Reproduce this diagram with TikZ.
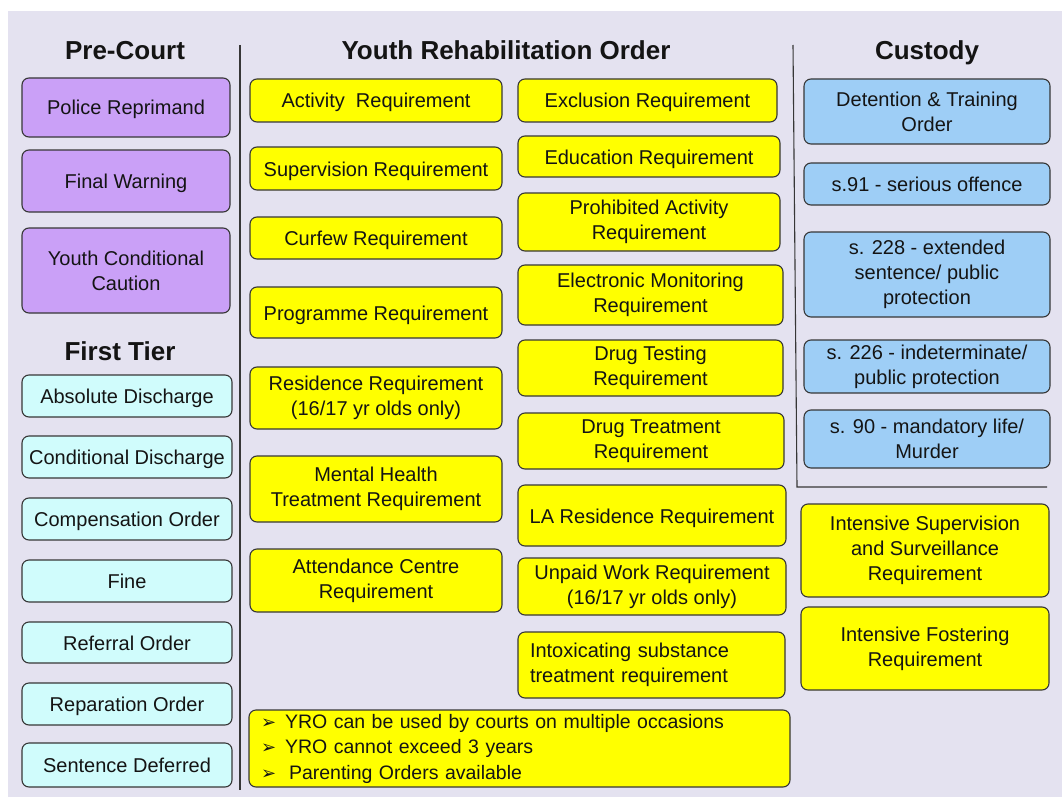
\documentclass[tikz,border=0pt]{standalone}
\usepackage{fontspec}
\setmainfont{Liberation Sans}
\newfontfamily\dejavu{DejaVu Sans}
\definecolor{bgcol}{RGB}{228,226,240}
\definecolor{purp}{RGB}{202,160,247}
\definecolor{cyanbox}{RGB}{208,252,252}
\definecolor{bluebox}{RGB}{158,206,246}
\definecolor{ylw}{RGB}{255,255,0}
\definecolor{edgecol}{RGB}{55,55,55}
\definecolor{txt}{RGB}{20,20,20}
\newcommand{\bul}[1][24pt]{\makebox[#1][l]{\dejavu\fontsize{18}{25}\selectfont ➢}}
\begin{document}
\begin{tikzpicture}[x=1pt,y=-1pt,
  bx/.style={draw=edgecol, line width=1.1pt, rounded corners=7pt, align=center, inner sep=2pt, text=txt, font=\fontsize{20}{25}\selectfont},
  one/.style={text height=15pt, text depth=0pt},
  pbox/.style={bx, fill=purp},
  cbox/.style={bx, fill=cyanbox},
  bbox/.style={bx, fill=bluebox},
  ybox/.style={bx, fill=ylw},
  head/.style={font=\bfseries\fontsize{26}{30}\selectfont, text=txt, anchor=base, inner sep=0pt},
  divline/.style={draw=edgecol, line width=1.1pt}]
\useasboundingbox (0,0) rectangle (1062,797);
\fill[white] (0,0) rectangle (1062,797);
\fill[bgcol] (8,11) rectangle (1062,797);

% headings
\node[head] (hpre) at (125,60) {Pre-Court};
\node[head] (hfirst) at (120,360) {First Tier};
\node[head] (hyro) at (506,60) {Youth Rehabilitation Order};
\node[head] (hcust) at (927,60) {Custody};

% dividers
\coordinate (d1a) at (240,45); \coordinate (d1b) at (240,790);
\coordinate (d2a) at (793,45); \coordinate (d2b) at (797,487);
\coordinate (d3b) at (1047,487);
\draw[divline] (d1a) -- (d1b);
\draw[divline] (d2a) -- (d2b) -- (d3b);

% Pre-Court
\node[pbox, one, minimum width=208pt, minimum height=59pt] (pr) at (126,107.5) {Police Reprimand};
\node[pbox, one, minimum width=208pt, minimum height=62pt] (fw) at (126,181) {Final Warning};
\node[pbox, minimum width=208pt, minimum height=85pt] (ycc) at (126,270.5) {Youth Conditional\\Caution};

% First Tier
\node[cbox, one, minimum width=210pt, minimum height=42pt] (ad) at (127,396) {Absolute Discharge};
\node[cbox, one, minimum width=210pt, minimum height=42pt] (cd) at (127,457) {Conditional Discharge};
\node[cbox, one, minimum width=210pt, minimum height=42pt] (co) at (127,519) {Compensation Order};
\node[cbox, one, minimum width=210pt, minimum height=42pt] (fine) at (127,581) {Fine};
\node[cbox, one, minimum width=210pt, minimum height=41pt] (ro) at (127,642.5) {Referral Order};
\node[cbox, one, minimum width=210pt, minimum height=42pt] (rep) at (127,704) {Reparation Order};
\node[cbox, one, minimum width=210pt, minimum height=44pt] (sd) at (127,765) {Sentence Deferred};

% YRO left column
\node[ybox, one, minimum width=252pt, minimum height=43pt] (act) at (376,100.5) {Activity\ \ Requirement};
\node[ybox, one, minimum width=252pt, minimum height=43pt] (sup) at (376,168.5) {Supervision Requirement};
\node[ybox, one, minimum width=252pt, minimum height=42pt] (cur) at (376,238) {Curfew Requirement};
\node[ybox, one, minimum width=252pt, minimum height=51pt] (prog) at (376,312.5) {Programme Requirement};
\node[ybox, minimum width=252pt, minimum height=62pt] (res) at (376,398) {Residence Requirement\\(16/17 yr olds only)};
\node[ybox, minimum width=252pt, minimum height=66pt] (mh) at (376,489) {Mental Health\\Treatment Requirement};
\node[ybox, minimum width=252pt, minimum height=63pt] (att) at (376,580.5) {Attendance Centre\\Requirement};

% YRO right column
\node[ybox, one, minimum width=259pt, minimum height=43pt] (exc) at (647.5,100.5) {Exclusion Requirement};
\node[ybox, one, minimum width=262pt, minimum height=41pt] (edu) at (649,156.5) {Education Requirement};
\node[ybox, minimum width=262pt, minimum height=58pt] (pro) at (649,222) {Prohibited Activity\\Requirement};
\node[ybox, minimum width=265pt, minimum height=60pt] (elec) at (650.5,295) {Electronic Monitoring\\Requirement};
\node[ybox, minimum width=265pt, minimum height=56pt] (dtest) at (650.5,368) {Drug Testing\\Requirement};
\node[ybox, minimum width=266pt, minimum height=56pt] (dtreat) at (651,441) {Drug Treatment\\Requirement};
\node[ybox, one, minimum width=268pt, minimum height=61pt] (la) at (652,515.5) {LA Residence Requirement};
\node[ybox, minimum width=268pt, minimum height=57pt] (uw) at (652,586.5) {Unpaid Work Requirement\\(16/17 yr olds only)};
\node[ybox, text width=243pt, inner xsep=12pt, align=left, minimum height=66pt] (intox) at (651.5,665) {Intoxicating substance\\treatment requirement};

% notes
\node[ybox, text width=517pt, inner xsep=12pt, align=left, minimum height=77pt, font=\fontsize{19.5}{25.5}\selectfont] (notes) at (519.5,748.5)
  {\bul YRO can be used by courts on multiple occasions\\
   \bul YRO cannot exceed 3 years\\
   \bul[28pt]Parenting Orders available};

% Custody
\node[bbox, minimum width=246pt, minimum height=65pt] (dto) at (927,111.5) {Detention \& Training\\Order};
\node[bbox, one, minimum width=246pt, minimum height=42pt] (s91) at (927,184) {s.91 - serious offence};
\node[bbox, minimum width=246pt, minimum height=85pt] (s228) at (927,274.5) {s. 228 - extended\\sentence/ public\\protection};
\node[bbox, minimum width=246pt, minimum height=53pt] (s226) at (927,366.5) {s. 226 - indeterminate/\\public protection};
\node[bbox, minimum width=246pt, minimum height=58pt] (s90) at (927,439) {s. 90 - mandatory life/\\Murder};

\node[ybox, minimum width=248pt, minimum height=93pt] (iss) at (925,550.5) {Intensive Supervision\\and Surveillance\\Requirement};
\node[ybox, minimum width=248pt, minimum height=83pt] (ifr) at (925,648.5) {Intensive Fostering\\Requirement};
\end{tikzpicture}
\end{document}
